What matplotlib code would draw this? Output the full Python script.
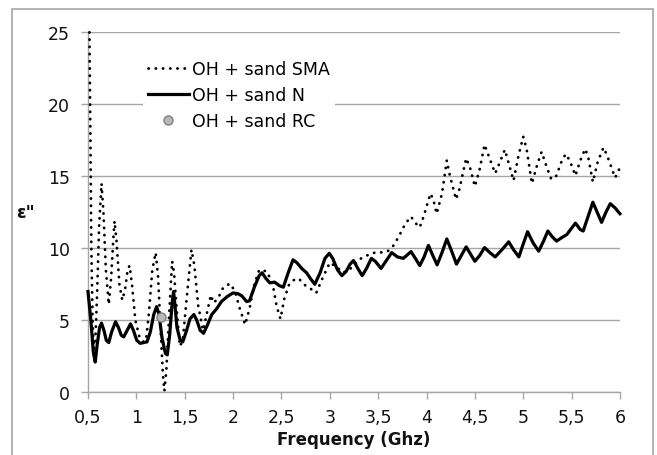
import matplotlib
matplotlib.use('Agg')
import matplotlib.pyplot as plt
from matplotlib.lines import Line2D
from matplotlib.patches import Rectangle

plt.rcParams['font.family'] = ['DejaVu Sans']

# OH + sand SMA (dotted)
sma_x = [0.515, 0.525, 0.535, 0.548, 0.56, 0.575, 0.595, 0.615, 0.64, 0.66,
         0.685, 0.715, 0.74, 0.765, 0.775, 0.795, 0.825, 0.855, 0.885, 0.91,
         0.93, 0.955, 0.99, 1.03, 1.07, 1.1, 1.13, 1.165, 1.2, 1.225,
         1.25, 1.275, 1.29, 1.31, 1.34, 1.37, 1.39, 1.42, 1.45, 1.48,
         1.52, 1.57, 1.6, 1.64, 1.69, 1.73, 1.77, 1.80, 1.85, 1.9,
         1.97, 2.02, 2.07, 2.125, 2.17, 2.22, 2.27, 2.35, 2.41, 2.45,
         2.49, 2.53, 2.58, 2.63, 2.68, 2.73, 2.8, 2.86, 2.93, 3.0,
         3.07, 3.14, 3.19, 3.24, 3.3, 3.35, 3.42, 3.49, 3.55, 3.6,
         3.66, 3.72, 3.78, 3.84, 3.88, 3.93, 3.97, 4.04, 4.07, 4.105,
         4.16, 4.21, 4.24, 4.305, 4.34, 4.41, 4.45, 4.5, 4.55, 4.6,
         4.65, 4.71, 4.76, 4.81, 4.85, 4.9, 4.95, 5.0, 5.035, 5.07,
         5.09, 5.14, 5.19, 5.24, 5.29, 5.34, 5.40, 5.44, 5.48, 5.54,
         5.59, 5.64, 5.67, 5.72, 5.77, 5.83, 5.87, 5.95, 6.0]
sma_y = [25.0, 18.0, 10.0, 5.0, 3.0, 3.3, 7.0, 11.5, 14.5, 12.5,
         8.5, 6.1, 8.0, 11.0, 11.9, 10.5, 7.5, 6.4, 7.2, 8.5,
         8.8, 7.5, 5.0, 3.9, 3.5, 3.6, 5.5, 8.5, 9.7, 8.0,
         4.5, 1.2, 0.1, 1.5, 5.5, 9.1, 8.3, 5.5, 3.2, 3.6,
         6.5, 9.9, 8.8, 6.0, 4.3, 5.5, 6.75, 6.2, 6.6, 7.3,
         7.55, 7.0, 5.8, 4.7, 5.8, 7.5, 8.5, 8.4, 7.5, 6.0,
         5.1, 6.5, 7.5, 7.8, 7.9, 7.5, 7.2, 6.9, 8.0, 9.0,
         8.7, 8.3, 8.5, 8.7, 9.2, 9.4, 9.6, 9.75, 9.7, 9.8,
         10.2, 10.9, 11.7, 12.2, 11.8, 11.45, 12.2, 13.8, 13.4, 12.4,
         13.8, 16.1, 15.1, 13.4, 14.1, 16.25, 15.6, 14.3, 15.5, 17.2,
         16.3, 15.2, 16.0, 16.85, 15.9, 14.7, 16.4, 17.75, 16.9, 15.4,
         14.5, 15.7, 16.7, 15.7, 14.8, 15.0, 16.1, 16.55, 16.1, 15.05,
         16.1, 16.9, 16.4, 14.6, 16.0, 17.0, 16.4, 14.9, 15.6]

# OH + sand N (solid)
n_x = [0.50, 0.53, 0.555, 0.575, 0.595, 0.62, 0.64, 0.665, 0.69, 0.715,
       0.745, 0.785, 0.815, 0.845, 0.87, 0.905, 0.94, 0.97, 1.005, 1.04,
       1.075, 1.11, 1.145, 1.18, 1.21, 1.235, 1.265, 1.3, 1.32, 1.345,
       1.37, 1.385, 1.40, 1.42, 1.45, 1.48, 1.515, 1.555, 1.595, 1.625,
       1.66, 1.695, 1.73, 1.78, 1.83, 1.88, 1.94, 2.0, 2.05, 2.09,
       2.14, 2.17, 2.22, 2.27, 2.3, 2.34, 2.38, 2.43, 2.48, 2.52,
       2.57, 2.62, 2.66, 2.71, 2.76, 2.8, 2.845, 2.9, 2.95, 2.995,
       3.03, 3.08, 3.125, 3.17, 3.21, 3.245, 3.29, 3.335, 3.38, 3.43,
       3.47, 3.53, 3.58, 3.64, 3.7, 3.76, 3.84, 3.885, 3.93, 3.975,
       4.02, 4.065, 4.11, 4.16, 4.21, 4.26, 4.31, 4.36, 4.41, 4.455,
       4.5, 4.55, 4.6, 4.655, 4.71, 4.78, 4.85, 4.9, 4.955, 5.0,
       5.045, 5.1, 5.16, 5.21, 5.255, 5.3, 5.345, 5.4, 5.45, 5.5,
       5.54, 5.59, 5.62, 5.67, 5.72, 5.765, 5.81, 5.855, 5.9, 5.95, 6.0]
n_y = [7.0, 5.0, 2.8, 2.1, 3.3, 4.5, 4.8, 4.3, 3.6, 3.45,
       4.2, 4.9, 4.5, 3.95, 3.85, 4.3, 4.75, 4.3, 3.6, 3.4,
       3.45, 3.5, 4.2, 5.4, 5.95, 5.4, 3.8, 2.7, 2.6, 4.0,
       6.2, 7.0, 6.0, 4.5, 3.7, 3.5, 4.2, 5.1, 5.4, 5.0,
       4.3, 4.1, 4.6, 5.4, 5.8, 6.3, 6.65, 6.9, 6.85, 6.7,
       6.3, 6.35, 7.3, 8.1, 8.3, 7.9, 7.6, 7.65, 7.4, 7.3,
       8.3, 9.2, 9.0, 8.6, 8.3, 7.9, 7.5, 8.3, 9.3, 9.65,
       9.3, 8.5, 8.1, 8.4, 8.9, 9.15, 8.6, 8.1, 8.6, 9.3,
       9.1, 8.6, 9.1, 9.7, 9.4, 9.3, 9.77, 9.3, 8.8, 9.4,
       10.2, 9.5, 8.85, 9.7, 10.65, 9.8, 8.9, 9.5, 10.1, 9.6,
       9.1, 9.5, 10.05, 9.7, 9.4, 9.9, 10.45, 9.9, 9.4, 10.3,
       11.15, 10.4, 9.8, 10.5, 11.2, 10.8, 10.5, 10.75, 10.95, 11.4,
       11.75, 11.3, 11.2, 12.2, 13.2, 12.5, 11.8, 12.5, 13.1, 12.8, 12.4]

# OH + sand RC (single point)
rc_x = [1.26]
rc_y = [5.2]

xticks = [0.5, 1, 1.5, 2, 2.5, 3, 3.5, 4, 4.5, 5, 5.5, 6]
xtick_labels = ['0,5', '1', '1,5', '2', '2,5', '3', '3,5', '4', '4,5', '5', '5,5', '6']
yticks = [0, 5, 10, 15, 20, 25]

grey = '#a6a6a6'

fig = plt.figure(figsize=(6.57, 4.56), dpi=100)
ax = fig.add_axes([0.1339, 0.1375, 0.8097, 0.7895])

# border around the whole chart
fig.patches.append(Rectangle((12 / 657, -0.05), 641 / 657, 1.05 - 10 / 456,
                             transform=fig.transFigure, fill=False,
                             edgecolor=grey, linewidth=1.2))

dot_style = (0, (0.1, 2.5))
ax.plot(sma_x, sma_y, color='black', lw=2.0, linestyle=dot_style,
        dash_capstyle='round', clip_on=False, zorder=3)
ax.plot(n_x, n_y, color='black', lw=2.3, solid_joinstyle='round',
        clip_on=False, zorder=3)
ax.plot(rc_x, rc_y, 'o', ms=6.5, mfc='#b8b8b8', mec='#808080', mew=1.0,
        zorder=4)

ax.set_xlim(0.5, 6)
ax.set_ylim(0, 25)
ax.set_xticks(xticks, xtick_labels)
ax.set_yticks(yticks)
ax.yaxis.grid(True, color=grey, lw=1.0)
ax.set_axisbelow(True)

for side in ['top', 'right']:
    ax.spines[side].set_visible(False)
for side in ['left', 'bottom']:
    ax.spines[side].set_color(grey)
    ax.spines[side].set_linewidth(1.0)
ax.tick_params(axis='both', colors=grey, labelcolor='#111111', labelsize=12.5,
               length=5, width=1.0, direction='out')
ax.tick_params(axis='x', pad=6)
ax.tick_params(axis='y', pad=8)

ax.set_xlabel('Frequency (Ghz)', fontsize=12, fontweight='bold', labelpad=3,
              color='#111111')
ax.set_ylabel('ε"', fontsize=12.5, fontweight='bold', rotation=0,
              color='#111111', va='center', ha='center')
ax.yaxis.set_label_coords(-0.118, 0.5)

handles = [
    Line2D([], [], color='black', lw=2.0, linestyle=dot_style, dash_capstyle='round'),
    Line2D([], [], color='black', lw=2.3),
    Line2D([], [], marker='o', linestyle='none', ms=6.5, mfc='#b8b8b8',
           mec='#808080', mew=1.0),
]
labels = ['OH + sand SMA', 'OH + sand N', 'OH + sand RC']
leg = ax.legend(handles, labels, loc='upper left', bbox_to_anchor=(0.103, 0.937),
                borderaxespad=0, borderpad=0.3, handlelength=2.35,
                handletextpad=0.2, labelspacing=0.47, fontsize=12.5,
                frameon=True, fancybox=False, framealpha=1.0, edgecolor='none')
leg.get_frame().set_facecolor('white')

fig.savefig('out.png', dpi=100)
